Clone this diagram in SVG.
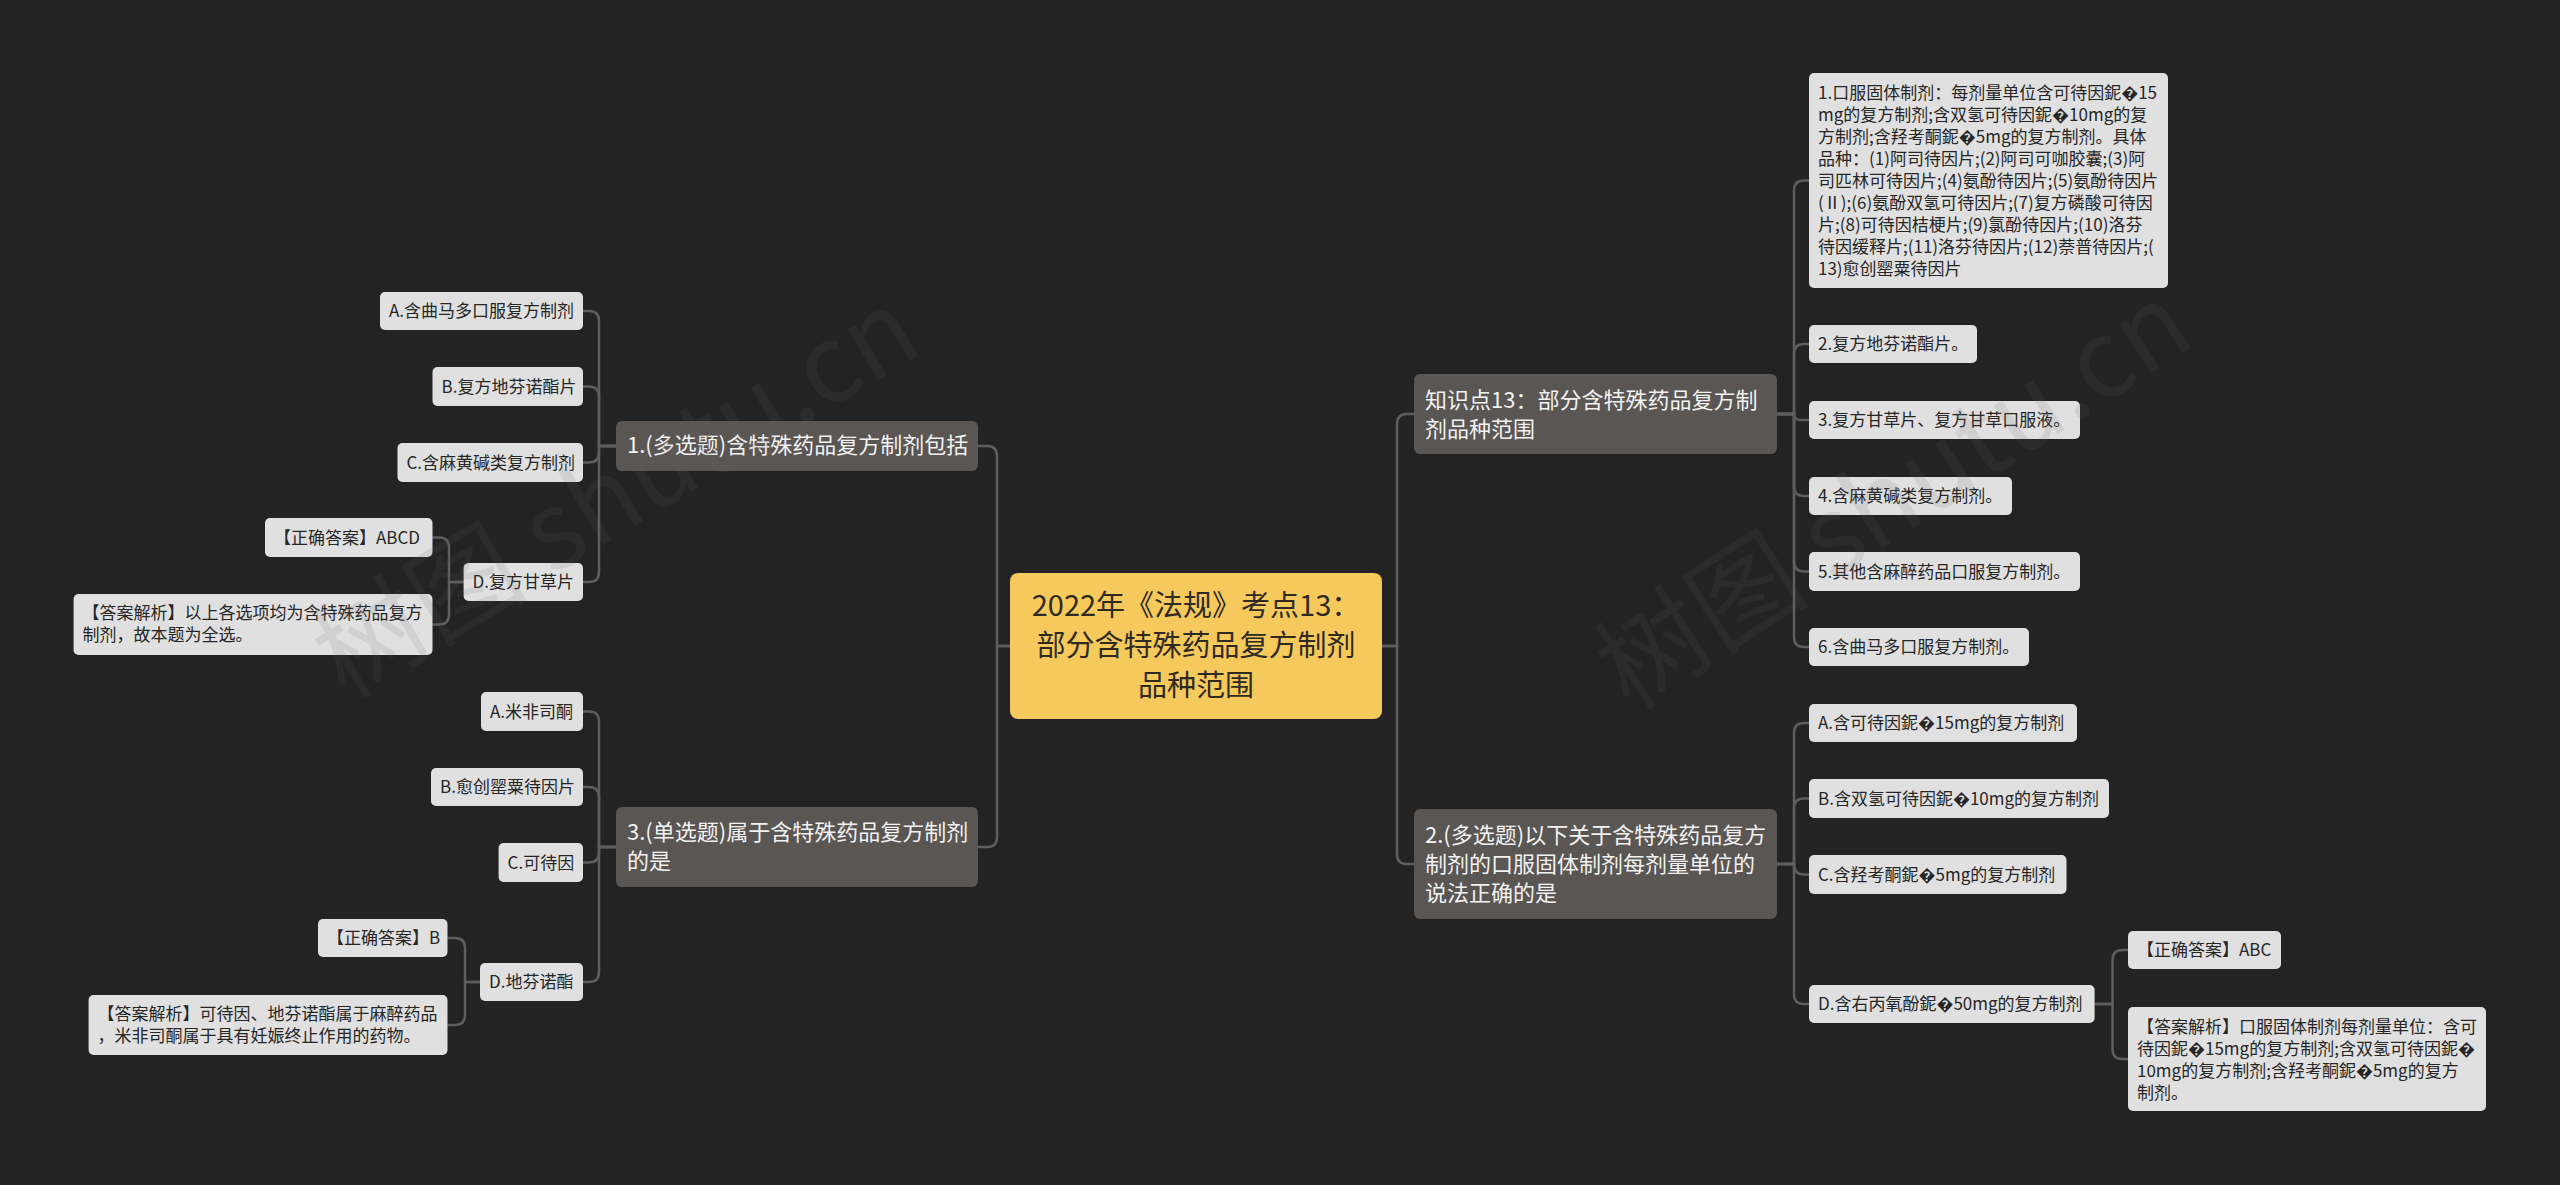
<svg xmlns="http://www.w3.org/2000/svg" width="2560" height="1185" viewBox="0 0 2560 1185">
<style>
text{font-family:"Noto Sans CJK SC","Noto Sans",sans-serif;}
.center rect{fill:#f5c95b;}
.center text{fill:#2e2a22;font-size:29px;text-anchor:middle;}
.l1 rect{fill:#5a5653;}
.l1 text{fill:#f2f2f2;font-size:22px;}
.l2 rect{fill:#e0e0e0;}
.l2 text{fill:#262626;font-size:17px;}
.links path{fill:none;stroke:#5e5e5e;stroke-width:2.5;}
.wm{font-size:108px;fill:#646464;opacity:0.12;}
</style>
<rect width="2560" height="1185" fill="#232323"/>
<g class="links">
<path d="M1010 646 H997 V456 Q997 446 987 446 H978"/>
<path d="M1010 646 H997 V837 Q997 847 987 847 H978"/>
<path d="M1382 646 H1397 V424 Q1397 414 1407 414 H1414"/>
<path d="M1382 646 H1397 V854 Q1397 864 1407 864 H1414"/>
<path d="M616 446 H599 V321 Q599 311 589 311 H583"/>
<path d="M616 446 H599 V396.5 Q599 386.5 589 386.5 H583"/>
<path d="M616 446 H599 V452.5 Q599 462.5 589 462.5 H583"/>
<path d="M616 446 H599 V572 Q599 582 589 582 H583"/>
<path d="M463.6 582 H449 V547.5 Q449 537.5 439 537.5 H432.5"/>
<path d="M463.6 582 H449 V614.5 Q449 624.5 439 624.5 H432.5"/>
<path d="M616 847 H599 V721.5 Q599 711.5 589 711.5 H583"/>
<path d="M616 847 H599 V797 Q599 787 589 787 H583"/>
<path d="M616 847 H599 V852.5 Q599 862.5 589 862.5 H583"/>
<path d="M616 847 H599 V972 Q599 982 589 982 H583"/>
<path d="M480 982 H465 V948 Q465 938 455 938 H447.5"/>
<path d="M480 982 H465 V1015 Q465 1025 455 1025 H447.5"/>
<path d="M1777 414 H1794 V190.5 Q1794 180.5 1804 180.5 H1809"/>
<path d="M1777 414 H1794 V354 Q1794 344 1804 344 H1809"/>
<path d="M1777 414 H1794 Q1794 420 1800 420 H1809"/>
<path d="M1777 414 H1794 V486 Q1794 496 1804 496 H1809"/>
<path d="M1777 414 H1794 V561.5 Q1794 571.5 1804 571.5 H1809"/>
<path d="M1777 414 H1794 V637 Q1794 647 1804 647 H1809"/>
<path d="M1777 864 H1794 V733 Q1794 723 1804 723 H1809"/>
<path d="M1777 864 H1794 V808.5 Q1794 798.5 1804 798.5 H1809"/>
<path d="M1777 864 H1794 V864.5 Q1794 874.5 1804 874.5 H1809"/>
<path d="M1777 864 H1794 V994 Q1794 1004 1804 1004 H1809"/>
<path d="M2094.6 1004 H2112.5 V960 Q2112.5 950 2122.5 950 H2128"/>
<path d="M2094.6 1004 H2112.5 V1049 Q2112.5 1059 2122.5 1059 H2128"/>
</g>
<g id="root" class="center">
<rect x="1010" y="573" width="372" height="146" rx="8"/>
<text x="1196" y="616">2022年《法规》考点13：</text>
<text x="1196" y="656">部分含特殊药品复方制剂</text>
<text x="1196" y="696">品种范围</text>
</g>
<g id="q1" class="l1">
<rect x="616" y="421" width="362" height="50" rx="6"/>
<text x="627" y="453">1.(多选题)含特殊药品复方制剂包括</text>
</g>
<g id="q3" class="l1">
<rect x="616" y="807" width="362" height="80" rx="6"/>
<text x="627" y="840">3.(单选题)属于含特殊药品复方制剂</text>
<text x="627" y="869">的是</text>
</g>
<g id="k13" class="l1">
<rect x="1414" y="374" width="363" height="80" rx="6"/>
<text x="1425" y="408">知识点13：部分含特殊药品复方制</text>
<text x="1425" y="437">剂品种范围</text>
</g>
<g id="q2" class="l1">
<rect x="1414" y="809" width="363" height="110" rx="6"/>
<text x="1425" y="843">2.(多选题)以下关于含特殊药品复方</text>
<text x="1425" y="872">制剂的口服固体制剂每剂量单位的</text>
<text x="1425" y="901">说法正确的是</text>
</g>
<g id="q1a" class="l2"><rect x="380" y="292" width="203" height="38" rx="5"/><text x="389" y="317">A.含曲马多口服复方制剂</text></g>
<g id="q1b" class="l2"><rect x="432.5" y="367" width="150.5" height="39" rx="5"/><text x="441.5" y="392.5">B.复方地芬诺酯片</text></g>
<g id="q1c" class="l2"><rect x="397.5" y="443" width="185.5" height="39" rx="5"/><text x="406.5" y="468.5">C.含麻黄碱类复方制剂</text></g>
<g id="q1d" class="l2"><rect x="463.6" y="563" width="119.4" height="38" rx="5"/><text x="472.6" y="588">D.复方甘草片</text></g>
<g id="q1ans" class="l2"><rect x="265" y="518" width="167.5" height="39" rx="5"/><text x="274" y="543.5">【正确答案】ABCD</text></g>
<g id="q1exp" class="l2"><rect x="73.6" y="594" width="358.9" height="61" rx="5"/><text x="82.6" y="619">【答案解析】以上各选项均为含特殊药品复方</text><text x="82.6" y="641">制剂，故本题为全选。</text></g>
<g id="q3a" class="l2"><rect x="481" y="692" width="102" height="39" rx="5"/><text x="490" y="717.5">A.米非司酮</text></g>
<g id="q3b" class="l2"><rect x="431" y="768" width="152" height="38" rx="5"/><text x="440" y="793">B.愈创罂粟待因片</text></g>
<g id="q3c" class="l2"><rect x="498.6" y="843" width="84.4" height="39" rx="5"/><text x="507.6" y="868.5">C.可待因</text></g>
<g id="q3d" class="l2"><rect x="480" y="963" width="103" height="38" rx="5"/><text x="489" y="988">D.地芬诺酯</text></g>
<g id="q3ans" class="l2"><rect x="318" y="919" width="129.5" height="38" rx="5"/><text x="327" y="944">【正确答案】B</text></g>
<g id="q3exp" class="l2"><rect x="88.6" y="995" width="358.9" height="60" rx="5"/><text x="97.6" y="1020">【答案解析】可待因、地芬诺酯属于麻醉药品</text><text x="97.6" y="1042">，米非司酮属于具有妊娠终止作用的药物。</text></g>
<g id="k1" class="l2"><rect x="1809" y="73" width="359" height="215" rx="5"/>
<text x="1818" y="99">1.口服固体制剂：每剂量单位含可待因鈮�15</text>
<text x="1818" y="121">mg的复方制剂;含双氢可待因鈮�10mg的复</text>
<text x="1818" y="143">方制剂;含羟考酮鈮�5mg的复方制剂。具体</text>
<text x="1818" y="165">品种：(1)阿司待因片;(2)阿司可咖胶囊;(3)阿</text>
<text x="1818" y="187">司匹林可待因片;(4)氨酚待因片;(5)氨酚待因片</text>
<text x="1818" y="209">(Ⅱ);(6)氨酚双氢可待因片;(7)复方磷酸可待因</text>
<text x="1818" y="231">片;(8)可待因桔梗片;(9)氯酚待因片;(10)洛芬</text>
<text x="1818" y="253">待因缓释片;(11)洛芬待因片;(12)萘普待因片;(</text>
<text x="1818" y="275">13)愈创罂粟待因片</text>
</g>
<g id="k2" class="l2"><rect x="1809" y="325" width="168" height="38" rx="5"/><text x="1818" y="350">2.复方地芬诺酯片。</text></g>
<g id="k3" class="l2"><rect x="1809" y="401" width="271" height="38" rx="5"/><text x="1818" y="426">3.复方甘草片、复方甘草口服液。</text></g>
<g id="k4" class="l2"><rect x="1809" y="477" width="203" height="38" rx="5"/><text x="1818" y="502">4.含麻黄碱类复方制剂。</text></g>
<g id="k5" class="l2"><rect x="1809" y="552" width="271" height="39" rx="5"/><text x="1818" y="577.5">5.其他含麻醉药品口服复方制剂。</text></g>
<g id="k6" class="l2"><rect x="1809" y="628" width="220" height="38" rx="5"/><text x="1818" y="653">6.含曲马多口服复方制剂。</text></g>
<g id="q2a" class="l2"><rect x="1809" y="704" width="268" height="38" rx="5"/><text x="1818" y="729">A.含可待因鈮�15mg的复方制剂</text></g>
<g id="q2b" class="l2"><rect x="1809" y="779" width="300" height="39" rx="5"/><text x="1818" y="804.5">B.含双氢可待因鈮�10mg的复方制剂</text></g>
<g id="q2c" class="l2"><rect x="1809" y="855" width="257.5" height="39" rx="5"/><text x="1818" y="880.5">C.含羟考酮鈮�5mg的复方制剂</text></g>
<g id="q2d" class="l2"><rect x="1809" y="985" width="285.6" height="38" rx="5"/><text x="1818" y="1010">D.含右丙氧酚鈮�50mg的复方制剂</text></g>
<g id="q2ans" class="l2"><rect x="2128" y="931" width="153" height="38" rx="5"/><text x="2137" y="956">【正确答案】ABC</text></g>
<g id="q2exp" class="l2"><rect x="2128" y="1007" width="358" height="104" rx="5"/>
<text x="2137" y="1032.5">【答案解析】口服固体制剂每剂量单位：含可</text>
<text x="2137" y="1054.5">待因鈮�15mg的复方制剂;含双氢可待因鈮�</text>
<text x="2137" y="1076.5">10mg的复方制剂;含羟考酮鈮�5mg的复方</text>
<text x="2137" y="1098.5">制剂。</text>
</g>
<g id="watermarks">
<text class="wm" transform="translate(345 700) rotate(-31)">树图 shutu.cn</text>
<text class="wm" transform="translate(1630 712) rotate(-33)">树图 shutu.cn</text>
</g>
</svg>
